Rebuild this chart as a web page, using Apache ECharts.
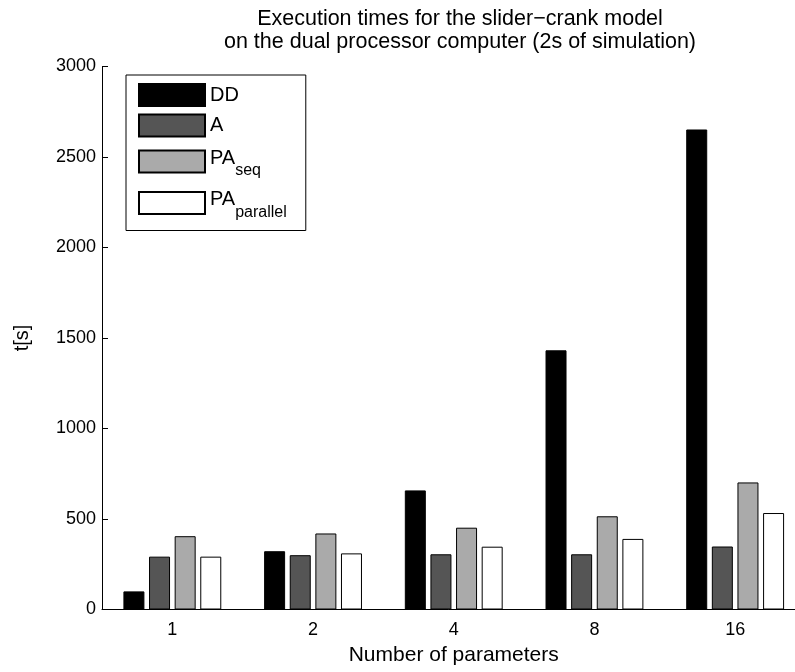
<!DOCTYPE html>
<html>
<head>
<meta charset="UTF-8">
<title>slider-crank execution times</title>
<script type="text/javascript" src="https://cdn.jsdelivr.net/npm/echarts@6/dist/echarts.min.js"></script>
<style>
	html, body { margin: 0; padding: 0; background: #fff; }
	#main { width: 795px; height: 672px; }
</style>
</head>
<body>
	<div id="main"></div>
	<script type="text/javascript">
		// data
		var categories = ['1', '2', '4', '8', '16'];
		var ddTimes = [100, 322, 658, 1432, 2652];
		var aTimes = [292, 300, 305, 305, 348];
		var paSeqTimes = [405, 420, 452, 515, 702];
		var paParTimes = [292, 310, 347, 390, 533];
		var yTicks = [0, 500, 1000, 1500, 2000, 2500, 3000];

		var font = 'Liberation Sans';
		var myChart = echarts.init(document.getElementById('main'));

		function barSeries(name, data, color) {
			return {
				name: name,
				type: 'bar',
				data: data,
				barWidth: 21,
				barGap: '22%',
				itemStyle: { color: color, borderColor: '#000', borderWidth: 1 },
				emphasis: { disabled: true }
			};
		}

		var option = {
			animation: false,
			title: {
				text: 'Execution times for the slider\u2212crank model\non the dual processor computer (2s of simulation)',
				left: 455,
				textAlign: 'center',
				top: 3,
				textStyle: { fontFamily: font, fontSize: 21.5, fontWeight: 'normal', color: '#000', lineHeight: 23 }
			},
			legend: {
				orient: 'vertical',
				left: 126,
				top: 75,
				padding: [8, 19, 10, 12],
				itemGap: 6.5,
				itemWidth: 66,
				itemHeight: 22,
				borderColor: '#000',
				borderWidth: 1,
				selectedMode: false,
				icon: 'rect',
				data: ['DD', 'A', 'PA_seq', 'PA_parallel'],
				formatter: function (name) {
					var parts = name.split('_');
					if (parts.length > 1) {
						return '{m|' + parts[0] + '}{s|' + parts[1] + '}';
					}
					return '{p|' + name + '}';
				},
				textStyle: {
					fontFamily: font,
					color: '#000',
					rich: {
						p: { fontFamily: font, fontSize: 20, lineHeight: 22, color: '#000' },
						m: { fontFamily: font, fontSize: 20, lineHeight: 32, padding: [0, 0, 7, 0], color: '#000' },
						s: { fontFamily: font, fontSize: 16, lineHeight: 32, padding: [19, 0, 0, 0], color: '#000' }
					}
				}
			},
			grid: {
				left: 102,
				top: 66.5,
				width: 703.5,
				height: 543,
				outerBoundsMode: 'none'
			},
			xAxis: {
				type: 'category',
				data: categories,
				name: 'Number of parameters',
				nameLocation: 'middle',
				nameGap: 35,
				nameTextStyle: { fontFamily: font, fontSize: 21, color: '#000' },
				axisLine: { lineStyle: { color: '#000', width: 1 } },
				axisTick: { alignWithLabel: true, inside: true, length: 5, lineStyle: { color: '#000' } },
				axisLabel: { fontFamily: font, fontSize: 18, color: '#000', margin: 12 },
				splitLine: { show: false }
			},
			yAxis: {
				type: 'value',
				min: yTicks[0],
				max: yTicks[yTicks.length - 1],
				interval: 500,
				name: 't[s]',
				nameLocation: 'middle',
				nameGap: 70,
				nameTextStyle: { fontFamily: font, fontSize: 20, color: '#000' },
				axisLine: { show: true, lineStyle: { color: '#000', width: 1 } },
				axisTick: { show: true, inside: true, length: 6, lineStyle: { color: '#000' } },
				axisLabel: {
					fontFamily: font, fontSize: 18, color: '#000', margin: 6,
					formatter: function (v) { return String(v); }
				},
				splitLine: { show: false }
			},
			series: [
				barSeries('DD', ddTimes, '#000000'),
				barSeries('A', aTimes, '#555555'),
				barSeries('PA_seq', paSeqTimes, '#aaaaaa'),
				barSeries('PA_parallel', paParTimes, '#ffffff')
			]
		};

		myChart.setOption(option);
		window.onresize = myChart.resize;
	</script>
</body>
</html>
